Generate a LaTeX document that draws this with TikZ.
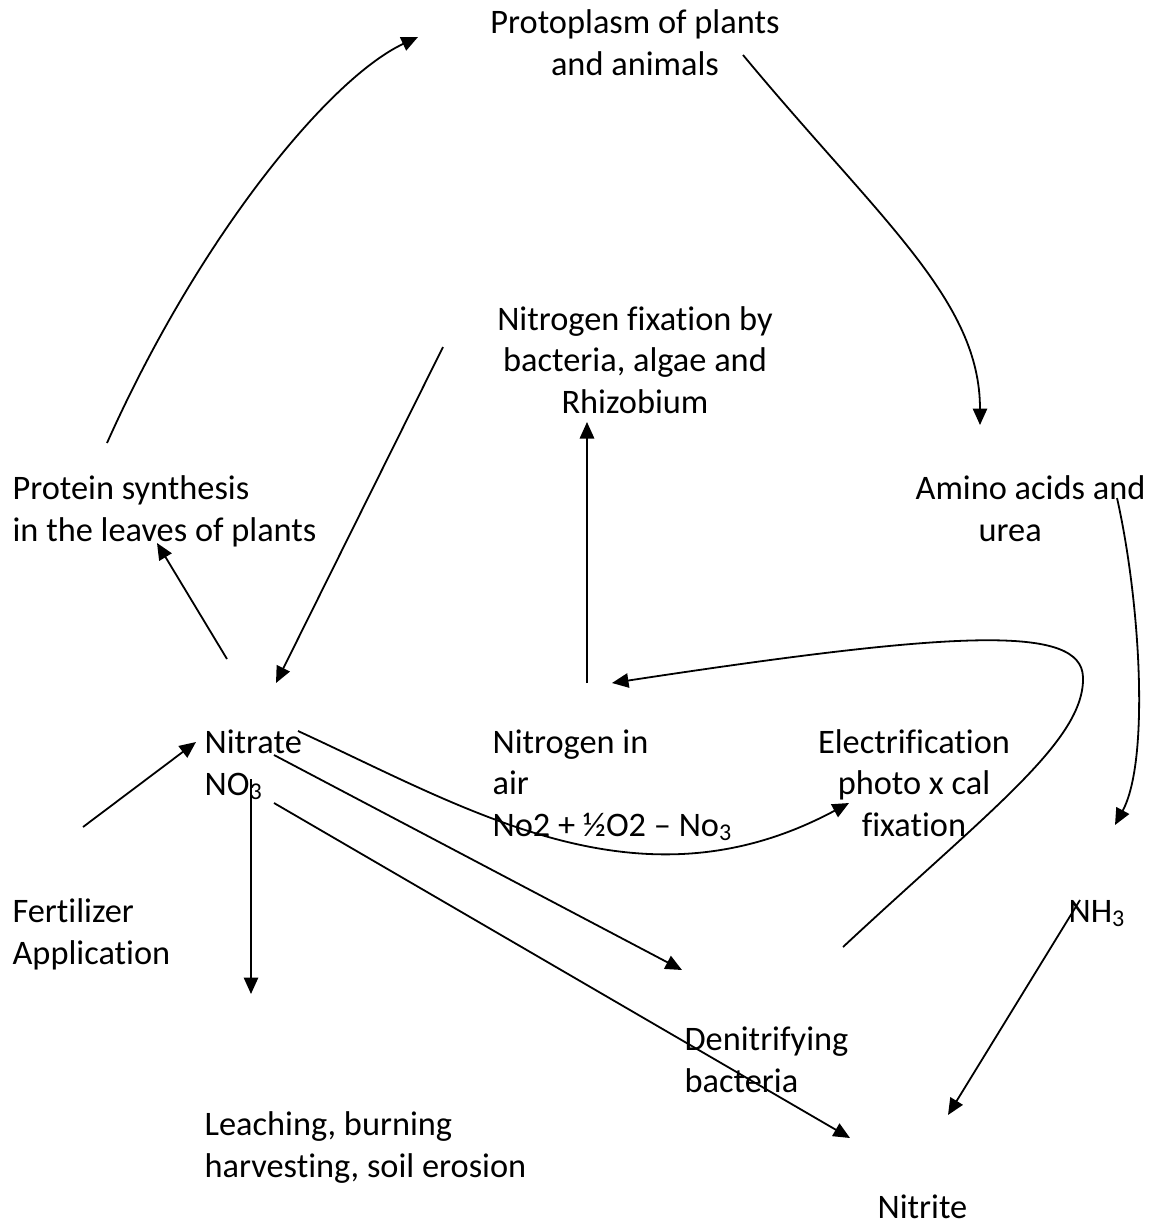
\documentclass[tikz,border=0pt]{standalone}
\usepackage{fontspec}
\setmainfont{Carlito}[Ligatures={NoCommon}]
\usetikzlibrary{arrows.meta}
\tikzset{
  cycle-label/.style={inner sep=0pt, font=\fontsize{11.45}{13.8}\selectfont},
  cycle-path/.style={line width=0.6pt, -{Triangle[length=5.5pt,width=4.8pt]}},
}
\begin{document}
\begin{tikzpicture}[x=0.3333pt, y=-0.3333pt]
\useasboundingbox (0,0) rectangle (1152,1223);
% labels (base = last line)
\node[cycle-label, align=center, anchor=base] (protoplasm) at (635,75) {Protoplasm of plants\\and animals};
\node[cycle-label, align=center, anchor=base] (fixation) at (635,413) {Nitrogen fixation by\\bacteria, algae and\\Rhizobium};
\node[cycle-label, align=left, anchor=base west] (synthesis) at (12,541) {Protein synthesis\\in the leaves of plants};
\node[cycle-label, align=left, anchor=base west] (amino) at (915,541) {Amino acids and\\\hspace*{21pt}urea};
\node[cycle-label, align=left, anchor=base west] (nitrate) at (204,795) {Nitrate\\NO\textsubscript{3}};
\node[cycle-label, align=left, anchor=base west] (air) at (492,836) {Nitrogen in\\air\\No2 + ½O2 – No\textsubscript{3}};
\node[cycle-label, align=center, anchor=base] (electrification) at (914,836) {Electrification\\photo x cal\\fixation};
\node[cycle-label, align=left, anchor=base west] (fertilizer) at (12,964) {Fertilizer\\Application};
\node[cycle-label, anchor=base west] (nh3) at (1068,922) {NH\textsubscript{3}};
\node[cycle-label, align=left, anchor=base west] (denitrifying) at (684,1092) {Denitrifying\\bacteria};
\node[cycle-label, align=left, anchor=base west] (leaching) at (204,1177) {Leaching, burning\\harvesting, soil erosion};
\node[cycle-label, anchor=base west] (nitrite) at (877,1218) {Nitrite};
% arrow ends
\coordinate (synth-out) at (107,443);
\coordinate (proto-in) at (418,37);
\coordinate (proto-out) at (743,55);
\coordinate (amino-in) at (980,425);
\coordinate (amino-out) at (1117,498);
\coordinate (nh3-in) at (1115,825);
\coordinate (nh3-out) at (1080,900);
\coordinate (nitrite-in) at (948,1115);
\coordinate (fix-out) at (443,347);
\coordinate (nitrate-in) at (276,683);
\coordinate (air-up) at (587,683);
\coordinate (fix-in) at (587,422);
\coordinate (nitrate-up) at (227,659);
\coordinate (synth-in) at (157,543);
\coordinate (denit-out) at (843,947);
\coordinate (loop-turn) at (1083,677);
\coordinate (air-in) at (612,683);
\coordinate (nitrate-right) at (298,731);
\coordinate (elec-in) at (849,803);
\coordinate (nitrate-denit) at (274,755);
\coordinate (denit-in) at (682,970);
\coordinate (nitrate-nitrite) at (274,803);
\coordinate (nitrite-in2) at (850,1138);
\coordinate (nitrate-down) at (251,779);
\coordinate (leach-in) at (251,994);
\coordinate (fert-out) at (83,827);
\coordinate (nitrate-left) at (196,742);
% arrows
\draw[cycle-path] (synth-out) .. controls (200,235) and (330,78) .. (proto-in);
\draw[cycle-path] (proto-out) .. controls (880,220) and (980,300) .. (amino-in);
\draw[cycle-path] (amino-out) .. controls (1140,600) and (1150,760) .. (nh3-in);
\draw[cycle-path] (nh3-out) -- (nitrite-in);
\draw[cycle-path] (fix-out) -- (nitrate-in);
\draw[cycle-path] (air-up) -- (fix-in);
\draw[cycle-path] (nitrate-up) -- (synth-in);
\draw[cycle-path] (denit-out) .. controls (990,810) and (1085,740) .. (loop-turn)
  .. controls (1081,625) and (960,630) .. (air-in);
\draw[cycle-path] (nitrate-right) .. controls (470,810) and (640,915) .. (elec-in);
\draw[cycle-path] (nitrate-denit) -- (denit-in);
\draw[cycle-path] (nitrate-nitrite) -- (nitrite-in2);
\draw[cycle-path] (nitrate-down) -- (leach-in);
\draw[cycle-path] (fert-out) -- (nitrate-left);
\end{tikzpicture}
\end{document}
